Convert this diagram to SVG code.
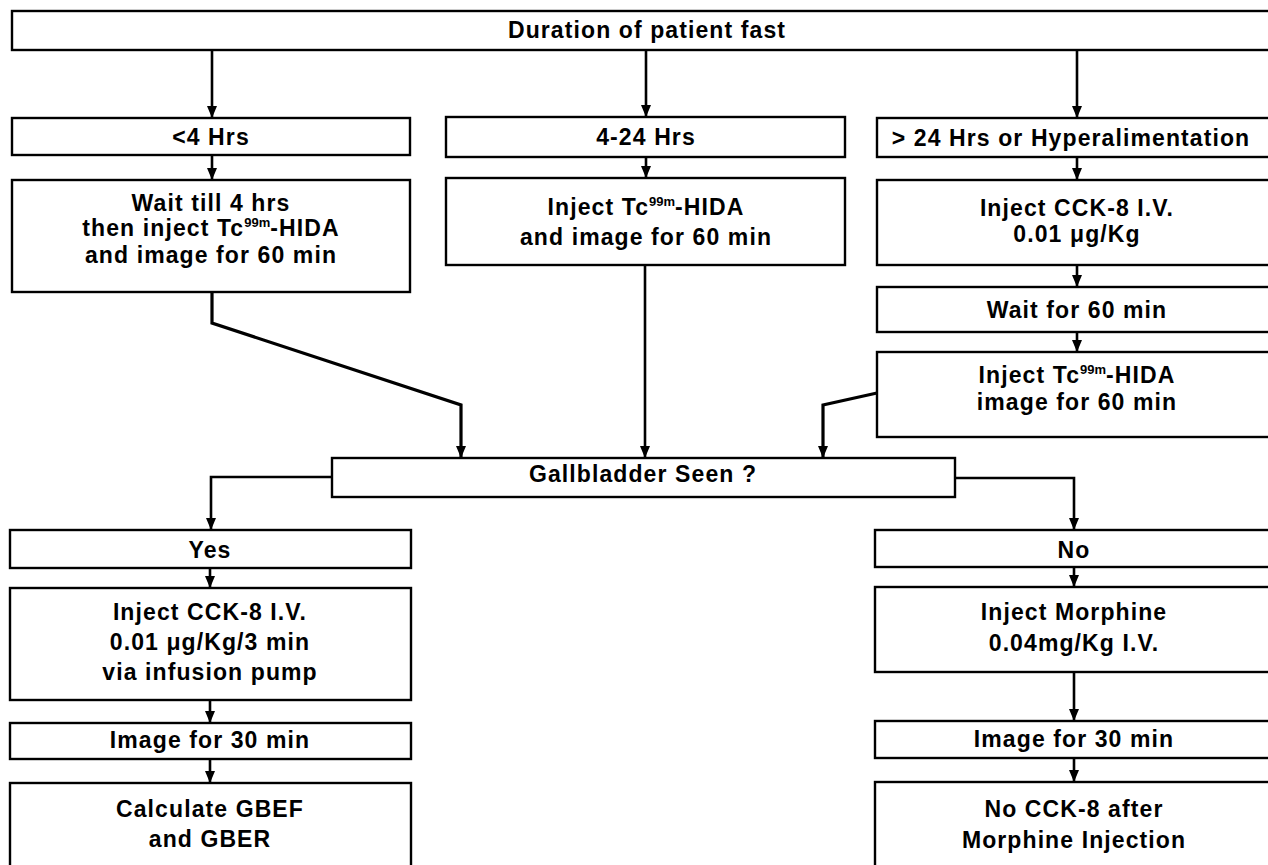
<svg xmlns="http://www.w3.org/2000/svg" width="1268" height="865" viewBox="0 0 1268 865">
<defs>
<marker id="ah" viewBox="0 0 12 10" markerWidth="12" markerHeight="10" refX="12" refY="5" orient="auto" markerUnits="userSpaceOnUse">
<path d="M0,0 L12,5 L0,10 z" fill="#000"/>
</marker>
<style>
.box{fill:#fff;stroke:#000;stroke-width:2.4}
.t{font-family:"Liberation Sans",Arial,Helvetica,sans-serif;font-weight:bold;font-size:23px;letter-spacing:1.1px;text-anchor:middle;fill:#000}
.sup{font-size:13px;letter-spacing:0}
.c{fill:none;stroke:#000;stroke-width:2.6;marker-end:url(#ah)}
.d{stroke-width:3.2}
</style>
</defs>
<rect width="1268" height="865" fill="#fff"/>

<g id="connectors">
<path class="c" d="M212,50 V118"/>
<path class="c" d="M646,50 V117"/>
<path class="c" d="M1077,50 V118"/>
<path class="c" d="M212,155 V180"/>
<path class="c" d="M646,157 V178"/>
<path class="c" d="M1077,157 V180"/>
<path class="c" d="M1077,265 V287"/>
<path class="c" d="M1077,332 V352"/>
<path class="c d" d="M212,292 V323 L461,405 V458"/>
<path class="c" d="M645,265 V458"/>
<path class="c d" d="M877,393 L823,405 V458"/>
<path class="c" d="M332,477 H211 V530"/>
<path class="c" d="M955,478 H1074 V530"/>
<path class="c" d="M210,568 V588"/>
<path class="c" d="M210,700 V723"/>
<path class="c" d="M210,759 V783"/>
<path class="c" d="M1074,567 V587"/>
<path class="c" d="M1074,672 V721"/>
<path class="c" d="M1074,758 V782"/>
</g>

<g id="n-duration">
<rect class="box" x="12" y="11" width="1280" height="39"/>
<text class="t" x="647" y="38">Duration of patient fast</text>
</g>

<g id="n-lt4">
<rect class="box" x="12" y="118" width="398" height="37"/>
<text class="t" x="211" y="145">&lt;4 Hrs</text>
</g>
<g id="n-wait4">
<rect class="box" x="12" y="180" width="398" height="112"/>
<text class="t" x="211" y="211">Wait till 4 hrs</text>
<text class="t" x="211" y="236">then inject Tc<tspan class="sup" dy="-9">99m</tspan><tspan dy="9">-HIDA</tspan></text>
<text class="t" x="211" y="263">and image for 60 min</text>
</g>

<g id="n-4to24">
<rect class="box" x="446" y="117" width="399" height="40"/>
<text class="t" x="646" y="145">4-24 Hrs</text>
</g>
<g id="n-inject-mid">
<rect class="box" x="446" y="178" width="399" height="87"/>
<text class="t" x="646" y="215">Inject Tc<tspan class="sup" dy="-9">99m</tspan><tspan dy="9">-HIDA</tspan></text>
<text class="t" x="646" y="245">and image for 60 min</text>
</g>

<g id="n-gt24">
<rect class="box" x="877" y="118" width="420" height="39"/>
<text class="t" x="1071" y="146">&gt; 24 Hrs or Hyperalimentation</text>
</g>
<g id="n-cck-right">
<rect class="box" x="877" y="180" width="420" height="85"/>
<text class="t" x="1077" y="216">Inject CCK-8 I.V.</text>
<text class="t" x="1077" y="242">0.01 μg/Kg</text>
</g>
<g id="n-wait60">
<rect class="box" x="877" y="287" width="420" height="45"/>
<text class="t" x="1077" y="318">Wait for 60 min</text>
</g>
<g id="n-inject-right">
<rect class="box" x="877" y="352" width="420" height="85"/>
<text class="t" x="1077" y="383">Inject Tc<tspan class="sup" dy="-9">99m</tspan><tspan dy="9">-HIDA</tspan></text>
<text class="t" x="1077" y="410">image for 60 min</text>
</g>

<g id="n-gallbladder">
<rect class="box" x="332" y="458" width="623" height="39"/>
<text class="t" x="643" y="482">Gallbladder Seen ?</text>
</g>

<g id="n-yes">
<rect class="box" x="10" y="530" width="401" height="38"/>
<text class="t" x="210" y="558">Yes</text>
</g>
<g id="n-cck-yes">
<rect class="box" x="10" y="588" width="401" height="112"/>
<text class="t" x="210" y="620">Inject CCK-8 I.V.</text>
<text class="t" x="210" y="650">0.01 μg/Kg/3 min</text>
<text class="t" x="210" y="680">via infusion pump</text>
</g>
<g id="n-image-yes">
<rect class="box" x="10" y="723" width="401" height="36"/>
<text class="t" x="210" y="748">Image for 30 min</text>
</g>
<g id="n-calc">
<rect class="box" x="10" y="783" width="401" height="100"/>
<text class="t" x="210" y="817">Calculate GBEF</text>
<text class="t" x="210" y="847">and GBER</text>
</g>

<g id="n-no">
<rect class="box" x="875" y="530" width="420" height="37"/>
<text class="t" x="1074" y="558">No</text>
</g>
<g id="n-morphine">
<rect class="box" x="875" y="587" width="420" height="85"/>
<text class="t" x="1074" y="620">Inject Morphine</text>
<text class="t" x="1074" y="651">0.04mg/Kg I.V.</text>
</g>
<g id="n-image-no">
<rect class="box" x="875" y="721" width="420" height="37"/>
<text class="t" x="1074" y="747">Image for 30 min</text>
</g>
<g id="n-nocck">
<rect class="box" x="875" y="782" width="420" height="100"/>
<text class="t" x="1074" y="817">No CCK-8 after</text>
<text class="t" x="1074" y="848">Morphine Injection</text>
</g>
</svg>
